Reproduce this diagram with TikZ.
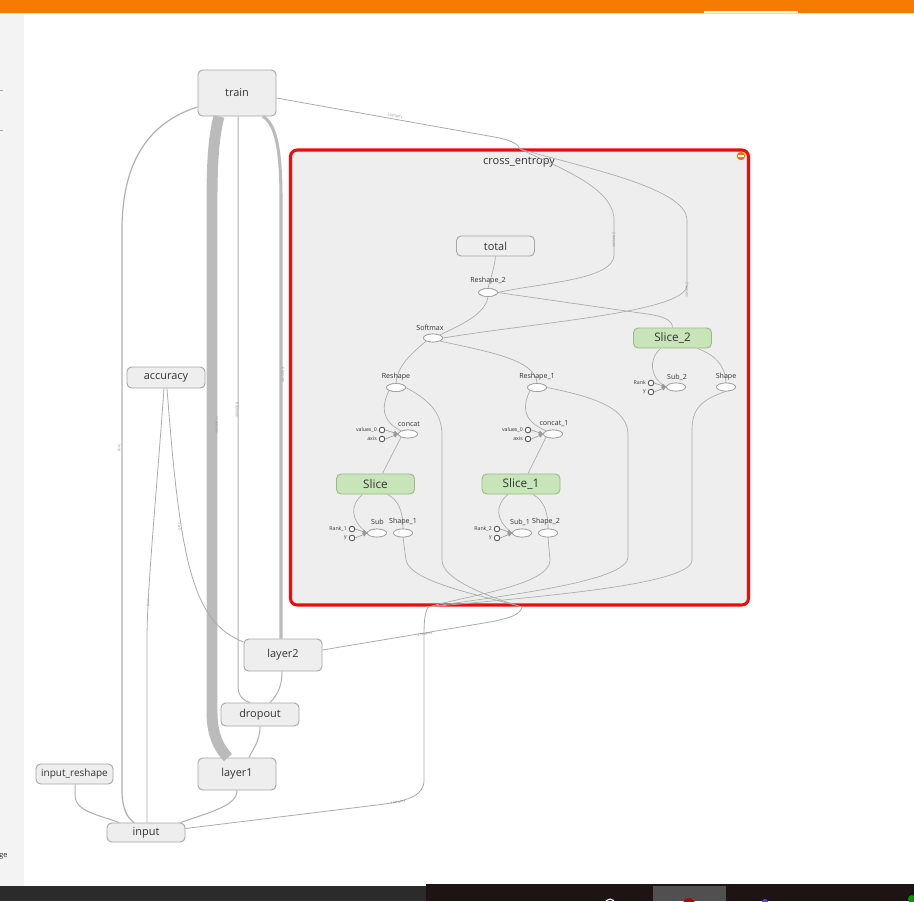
\documentclass[tikz,border=0pt]{standalone}
\usepackage{fontspec}
\setmainfont{Open Sans}
\usetikzlibrary{calc,arrows.meta,shapes.geometric}
\definecolor{orangebar}{HTML}{F57C00}
\definecolor{sidebar}{HTML}{F3F3F3}
\definecolor{boxfill}{HTML}{EEEEEE}
\definecolor{boxline}{HTML}{A6A6A6}
\definecolor{gfill}{HTML}{C8E4B9}
\definecolor{gline}{HTML}{98BA86}
\definecolor{txt}{HTML}{333333}
\definecolor{opline}{HTML}{9A9A9A}
\definecolor{portline}{HTML}{555555}
\definecolor{edgec}{HTML}{B0B0B0}
\definecolor{iedgec}{HTML}{ABABAB}
\definecolor{thickc}{HTML}{BBBBBB}
\definecolor{cred}{HTML}{F20A0A}
\definecolor{taskA}{HTML}{2B2B2B}
\definecolor{taskB}{HTML}{1E1414}
\definecolor{taskC}{HTML}{505050}
\def\pxu{0.75pt}
\tikzset{
 nbox/.style={draw=boxline, fill=boxfill, rounded corners=3.5pt, line width=0.7pt, inner sep=0pt, text=txt, font=\fontsize{8.2}{9}\selectfont},
 gbox/.style={nbox, draw=gline, fill=gfill, font=\fontsize{8.8}{9}\selectfont},
 opnode/.style={ellipse, draw=opline, fill=white, line width=0.5pt, minimum width=19*\pxu, minimum height=8*\pxu, inner sep=0pt},
 oplab/.style={font=\fontsize{5.3}{6}\selectfont, text=txt, inner sep=0pt},
 portnode/.style={circle, draw=portline, fill=white, line width=0.55pt, minimum size=5.5*\pxu, inner sep=0pt},
 portlab/.style={font=\fontsize{3.9}{4.5}\selectfont, text=txt, inner sep=0pt, anchor=east},
 conn/.style={draw=edgec, line width=0.75pt},
 iconn/.style={draw=iedgec, line width=0.5pt},
 pconn/.style={draw=portline!60, line width=0.45pt, -{Triangle[length=3.2pt,width=3.2pt]}},
 elab/.style={font=\fontsize{2.6}{3}\selectfont, text=gray, inner sep=0pt},
}
\begin{document}
\begin{tikzpicture}[x=0.75pt,y=-0.75pt]
\useasboundingbox (0,0) rectangle (914,901);
% page background
\fill[white] (0,0) rectangle (914,901);
\fill[sidebar] (0,13) rectangle (24,886);
\fill[orangebar] (0,0) rectangle (914,12.5);
\fill[black!12] (0,12.5) rectangle (914,13.5);
\fill[yellow!25!white] (704,11) rectangle (798,12.8);
\draw[gray!70, line width=0.4pt] (0,90) -- (3,90);
\draw[gray!70, line width=0.4pt] (0,130) -- (3,130);
\node[anchor=west, inner sep=0pt, font=\fontsize{5.5}{6}\selectfont, text=txt] (gelab) at (-1,856) {ge};
% taskbar
\fill[taskA] (0,886) rectangle (426,901);
\fill[taskB] (426,884) rectangle (914,901);
\fill[taskC] (653,886) rectangle (726,901);
\draw[white, line width=0.8pt] (610,904) circle (5);
\fill[red!75!black] (689,904) circle (6);
\fill[blue!70!white] (765,902) circle (3);
\fill[green!60!black] (912,899) circle (4);

% cluster
\node[draw=cred, fill=boxfill, line width=2.3pt, rounded corners=5pt, minimum width=458*\pxu, minimum height=455*\pxu, inner sep=0pt] (ce) at (519.5,377.5) {};
\node[font=\fontsize{8.3}{9}\selectfont, text=txt, inner sep=0pt] (ceTitle) at (519,162) {cross\_entropy};
\fill[orange!85!red] (741,156) circle (4.2);
\fill[white] (738,155.3) rectangle (744,156.9);
\coordinate (ceIn) at (520,149);
\coordinate (exitL) at (428,607);
\coordinate (exitR) at (522,607);

% main nodes
\node[nbox, minimum width=78*\pxu, minimum height=46*\pxu] (train) at (237,93) {train};
\node[nbox, minimum width=78*\pxu, minimum height=21*\pxu] (accuracy) at (166,377.5) {accuracy};
\node[nbox, minimum width=78*\pxu, minimum height=32*\pxu] (layer2) at (283,655) {layer2};
\node[nbox, minimum width=78*\pxu, minimum height=23*\pxu] (dropout) at (260,714.5) {dropout};
\node[nbox, minimum width=78*\pxu, minimum height=32*\pxu] (layer1) at (237,774) {layer1};
\node[nbox, minimum width=77*\pxu, minimum height=20*\pxu, font=\fontsize{7.5}{8}\selectfont] (inputreshape) at (74.5,774) {input\_reshape};
\node[nbox, minimum width=78*\pxu, minimum height=19*\pxu] (input) at (146,832.5) {input};

% cluster nodes
\node[nbox, minimum width=78*\pxu, minimum height=20*\pxu] (total) at (495.5,246) {total};
\node[gbox, minimum width=78*\pxu, minimum height=20*\pxu] (slice2) at (672.5,338) {Slice\_2};
\node[gbox, minimum width=78*\pxu, minimum height=20*\pxu] (slice) at (375.5,484) {Slice};
\node[gbox, minimum width=78*\pxu, minimum height=20*\pxu] (slice1) at (521,484) {Slice\_1};

\node[opnode] (reshape2) at (488,292.5) {};
\node[opnode] (softmax) at (433,338) {};
\node[opnode] (reshape) at (396,387.5) {};
\node[opnode] (reshape1) at (537,387.5) {};
\node[opnode] (sub2) at (676,387) {};
\node[opnode] (shape) at (726,387) {};
\node[opnode] (concat) at (408,434) {};
\node[opnode] (concat1) at (553,434) {};
\node[opnode] (sub) at (377,533) {};
\node[opnode] (shape1) at (403,533) {};
\node[opnode] (sub1) at (522,533) {};
\node[opnode] (shape2) at (548,533) {};

% ports
\node[portnode] (c0v) at (382,430) {};
\node[portnode] (c0a) at (382,439) {};
\node[portnode] (c1v) at (528,430) {};
\node[portnode] (c1a) at (528,439) {};
\node[portnode] (s0r) at (352,529) {};
\node[portnode] (s0y) at (352,538) {};
\node[portnode] (s1r) at (497,529) {};
\node[portnode] (s1y) at (497,538) {};
\node[portnode] (s2r) at (651,383) {};
\node[portnode] (s2y) at (651,392) {};

% ---------- outer edges
\draw[conn, line width=0.9pt] ($(train.west)+(0,14)$) .. controls (150,122) and (122,160) .. (122,230) -- (122,790) .. controls (122,810) and (128,818) .. ($(input.north)+(-12,0)$);
\draw[draw=thickc, line width=8.2pt] ($(train.south)+(-18,0)$) .. controls (214,135) and (212,160) .. (212,200) -- (212,712) .. controls (212,738) and (221,750) .. ($(layer1.north)+(-9,0)$);
\draw[conn] ($(train.south)+(1,0)$) -- (238,685) .. controls (238,697) and (244,701) .. ($(dropout.north)+(-10,0)$);
\draw[draw=thickc, line width=2.3pt] ($(train.south)+(26,0)$) .. controls (276,124) and (281,150) .. (281,200) -- ($(layer2.north)+(-2,0)$);
\draw[conn] ($(layer2.south)+(-1,0)$) .. controls (282,690) and (275,697) .. ($(dropout.north)+(10,0)$);
\draw[conn] (dropout.south) .. controls (260,742) and (252,750) .. ($(layer1.north)+(12,0)$);
\draw[conn] (layer1.south) .. controls (237,806) and (210,812) .. ($(input.north east)+(-5,0)$);
\draw[conn] ($(inputreshape.south)+(0.5,0)$) -- (75,796) .. controls (76,812) and (100,815) .. ($(input.north)+(-27,0)$);
\draw[iconn, line width=0.6pt] ($(accuracy.south)+(-2,0)$) .. controls (156,500) and (147,590) .. (147,640) -- ($(input.north)+(1,0)$);
\draw[iconn, line width=0.6pt] ($(accuracy.south)+(1,0)$) .. controls (180,560) and (192,622) .. ($(layer2.west)+(0,-13)$);
\draw[iconn, line width=0.6pt] ($(train.east)+(0,5)$) -- (500,138) .. controls (512,141) and (518,144) .. (ceIn);
\draw[iconn, line width=0.6pt] (exitR) .. controls (520,615) and (510,618) .. (490,622) -- ($(layer2.east)+(0,-5)$);
\draw[iconn, line width=0.6pt] (exitL) .. controls (424,615) and (424,625) .. (424,640) -- (424,780) .. controls (424,795) and (410,800) .. (385,804) -- ($(input.east)+(0,-4)$);

% ---------- cluster edges
\draw[iconn] (ceIn) .. controls (560,168) and (614,188) .. (614,220) -- (614,255) .. controls (614,280) and (540,283) .. (reshape2.east);
\draw[iconn] (ceIn) .. controls (585,168) and (687,188) .. (687,220) -- (687,285) .. controls (687,312) and (540,322) .. (softmax.east);
\draw[iconn] (total.south) .. controls (494,270) and (490,280) .. (reshape2.north);
\draw[iconn] (reshape2.east) -- (640,313) .. controls (665,316) and (672,320) .. (slice2.north);
\draw[iconn] (reshape2.south) .. controls (485,315) and (460,325) .. (softmax.north east);
\draw[iconn] (softmax.south west) .. controls (410,355) and (398,365) .. (reshape.north);
\draw[iconn] (softmax.south east) .. controls (490,352) and (536,360) .. (reshape1.north);
\draw[iconn] (reshape.south west) .. controls (382,405) and (380,420) .. (concat.north west);
\draw[iconn] (concat.south west) -- ($(slice.north)+(7,0)$);
\draw[iconn] ($(slice.south)+(-13,0)$) .. controls (350,505) and (350,520) .. (sub.west);
\draw[iconn] ($(slice.south)+(12,0)$) .. controls (398,500) and (403,510) .. (shape1.north);
\draw[iconn] (reshape1.south west) .. controls (523,405) and (521,420) .. (concat1.north west);
\draw[iconn] (concat1.south west) -- ($(slice1.north)+(7,0)$);
\draw[iconn] ($(slice1.south)+(-13,0)$) .. controls (495,505) and (495,520) .. (sub1.west);
\draw[iconn] ($(slice1.south)+(12,0)$) .. controls (543,500) and (548,510) .. (shape2.north);
\draw[iconn] ($(slice2.south)+(-12,0)$) .. controls (648,360) and (650,378) .. (sub2.west);
\draw[iconn] ($(slice2.south)+(25,0)$) .. controls (715,355) and (725,365) .. (shape.north);
% exits
\draw[iconn] (shape1.south) -- (406,560) .. controls (410,582) and (480,595) .. (exitR);
\draw[iconn] (reshape.east) .. controls (425,398) and (442,410) .. (442,435) -- (442,560) .. controls (442,580) and (490,597) .. (exitR);
\draw[iconn] (shape2.south) -- (550,560) .. controls (550,585) and (470,595) .. (exitL);
\draw[iconn] (reshape1.east) .. controls (600,398) and (628,410) .. (628,435) -- (628,557) .. controls (628,582) and (500,596) .. (exitL);
\draw[iconn] (shape.south) .. controls (700,400) and (692,410) .. (692,430) -- (692,560) .. controls (692,586) and (520,598) .. (exitL);

% redraw op nodes and ports on top of edges
\foreach \n in {reshape2,softmax,reshape,reshape1,sub2,shape,concat,concat1,sub,shape1,sub1,shape2}{
  \draw[opline, fill=white, line width=0.5pt] (\n.center) ellipse [x radius=9.5, y radius=4];
}
\foreach \n in {c0v,c0a,c1v,c1a,s0r,s0y,s1r,s1y,s2r,s2y}{
  \draw[portline, fill=white, line width=0.55pt] (\n.center) circle [radius=2.75];
}

% port arrows
\draw[pconn] (c0v.east) -- (concat.west);
\draw[pconn] (c0a.east) -- (concat.west);
\draw[pconn] (c1v.east) -- (concat1.west);
\draw[pconn] (c1a.east) -- (concat1.west);
\draw[pconn] (s0r.east) -- (sub.west);
\draw[pconn] (s0y.east) -- (sub.west);
\draw[pconn] (s1r.east) -- (sub1.west);
\draw[pconn] (s1y.east) -- (sub1.west);
\draw[pconn] (s2r.east) -- (sub2.west);
\draw[pconn] (s2y.east) -- (sub2.west);

% op labels
\node[oplab] (lReshape2) at (488,281) {Reshape\_2};
\node[oplab] (lSoftmax) at (430,328) {Softmax};
\node[oplab] (lReshape) at (396,377) {Reshape};
\node[oplab] (lReshape1) at (537,377) {Reshape\_1};
\node[oplab] (lSub2) at (677,377) {Sub\_2};
\node[oplab] (lShape) at (726,377) {Shape};
\node[oplab] (lConcat) at (409,424) {concat};
\node[oplab] (lConcat1) at (554,424) {concat\_1};
\node[oplab] (lSub) at (377.5,522) {Sub};
\node[oplab] (lShape1) at (403,522) {Shape\_1};
\node[oplab] (lSub1) at (520,522) {Sub\_1};
\node[oplab] (lShape2) at (546,522) {Shape\_2};
% port labels
\node[portlab] at (377,430) {values\_0};
\node[portlab] at (377,439) {axis};
\node[portlab] at (523,430) {values\_0};
\node[portlab] at (523,439) {axis};
\node[portlab] at (347,529) {Rank\_1};
\node[portlab] at (347,538) {y};
\node[portlab] at (492,529) {Rank\_2};
\node[portlab] at (492,538) {y};
\node[portlab] at (646,383) {Rank};
\node[portlab] at (646,392) {y};

% tiny edge labels
\node[elab, rotate=-90] at (217,425) {11 tensors};
\node[elab, rotate=-90] at (237,410) {6 tensors};
\node[elab, rotate=-90] at (283,375) {6 tensors};
\node[elab, rotate=-90] at (119,448) {?×10};
\node[elab, rotate=-80] at (179,527) {?×10};
\node[elab, rotate=-88] at (148,603) {?×10};
\node[elab, rotate=-10] at (395,116) {2 tensors};
\node[elab, rotate=9] at (425,634) {2 tensors};
\node[elab, rotate=7] at (398,802) {2 tensors};
\node[elab, rotate=-90] at (614,240) {2 tensors};
\node[elab, rotate=-90] at (687,290) {2 tensors};
\end{tikzpicture}
\end{document}
